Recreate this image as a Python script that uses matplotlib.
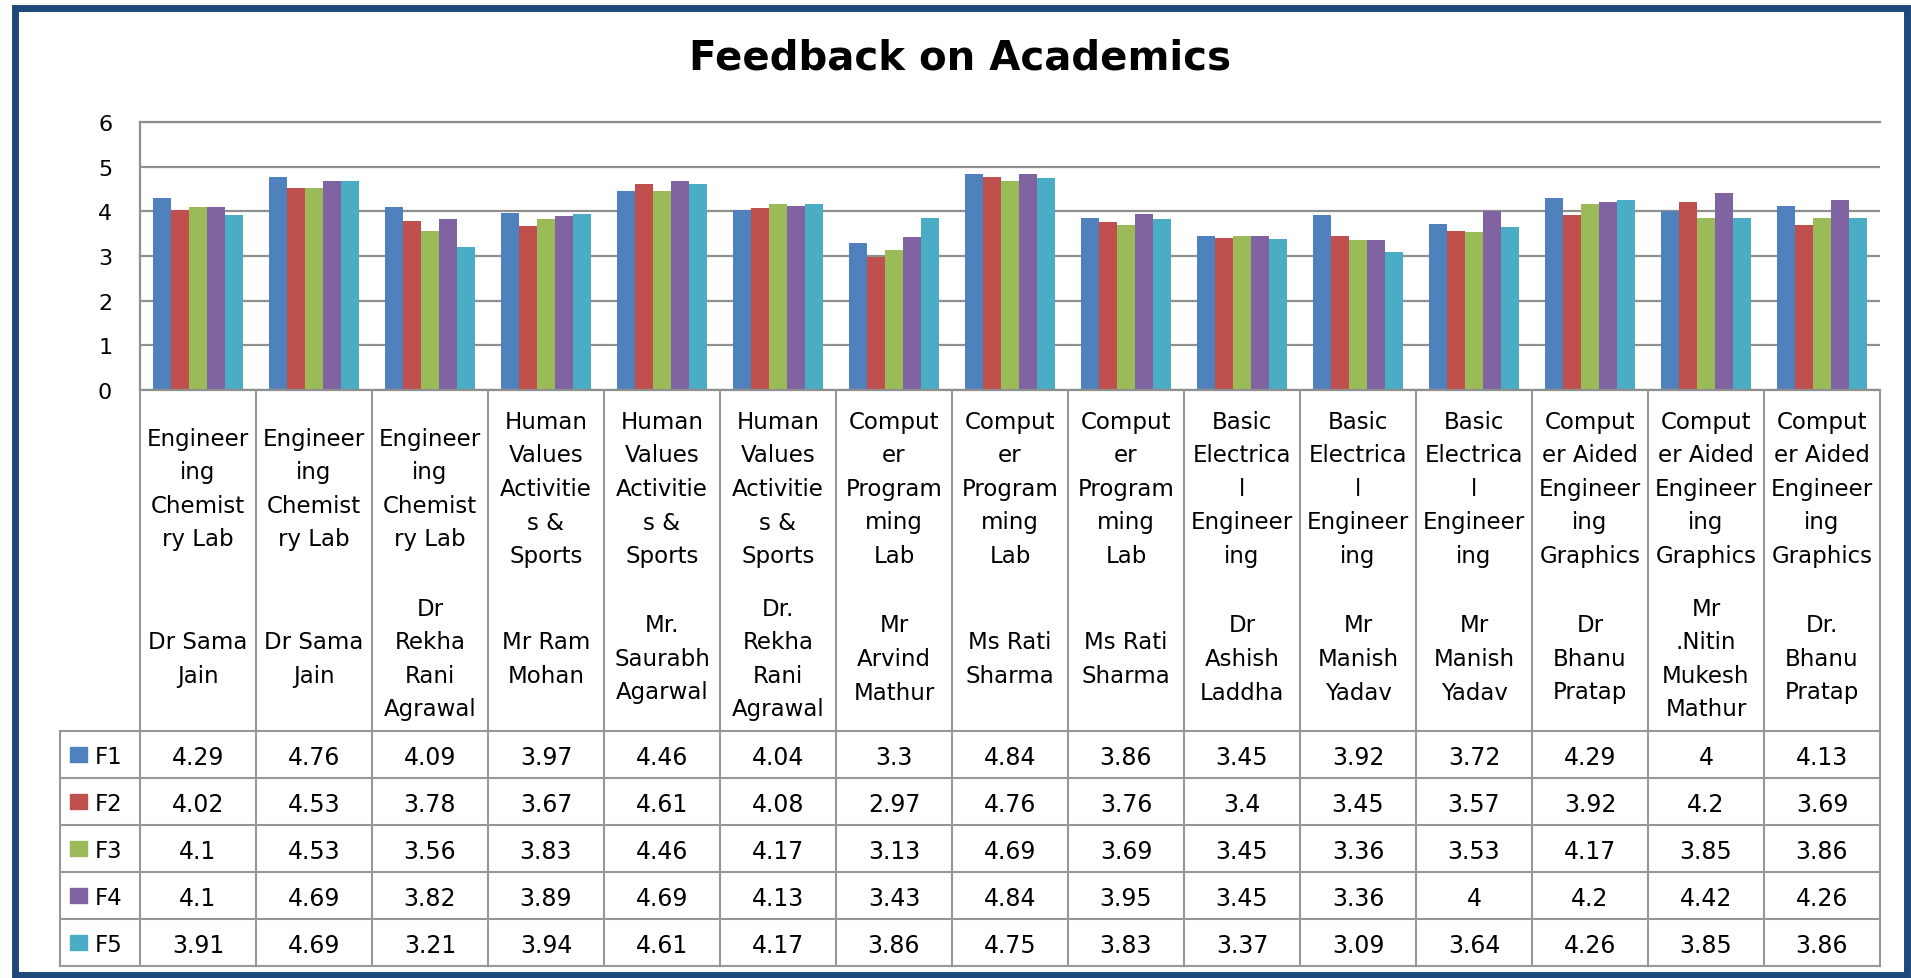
import numpy as np
import matplotlib.pyplot as plt
from matplotlib.patches import Rectangle

subjects = [
    "Engineer\ning\nChemist\nry Lab", "Engineer\ning\nChemist\nry Lab", "Engineer\ning\nChemist\nry Lab",
    "Human\nValues\nActivitie\ns &\nSports", "Human\nValues\nActivitie\ns &\nSports", "Human\nValues\nActivitie\ns &\nSports",
    "Comput\ner\nProgram\nming\nLab", "Comput\ner\nProgram\nming\nLab", "Comput\ner\nProgram\nming\nLab",
    "Basic\nElectrica\nl\nEngineer\ning", "Basic\nElectrica\nl\nEngineer\ning", "Basic\nElectrica\nl\nEngineer\ning",
    "Comput\ner Aided\nEngineer\ning\nGraphics", "Comput\ner Aided\nEngineer\ning\nGraphics", "Comput\ner Aided\nEngineer\ning\nGraphics",
]
teachers = [
    "Dr Sama\nJain", "Dr Sama\nJain", "Dr\nRekha\nRani\nAgrawal",
    "Mr Ram\nMohan", "Mr.\nSaurabh\nAgarwal", "Dr.\nRekha\nRani\nAgrawal",
    "Mr\nArvind\nMathur", "Ms Rati\nSharma", "Ms Rati\nSharma",
    "Dr\nAshish\nLaddha", "Mr\nManish\nYadav", "Mr\nManish\nYadav",
    "Dr\nBhanu\nPratap", "Mr\n.Nitin\nMukesh\nMathur", "Dr.\nBhanu\nPratap",
]
series_names = ["F1", "F2", "F3", "F4", "F5"]
F1 = [4.29, 4.76, 4.09, 3.97, 4.46, 4.04, 3.3, 4.84, 3.86, 3.45, 3.92, 3.72, 4.29, 4, 4.13]
F2 = [4.02, 4.53, 3.78, 3.67, 4.61, 4.08, 2.97, 4.76, 3.76, 3.4, 3.45, 3.57, 3.92, 4.2, 3.69]
F3 = [4.1, 4.53, 3.56, 3.83, 4.46, 4.17, 3.13, 4.69, 3.69, 3.45, 3.36, 3.53, 4.17, 3.85, 3.86]
F4 = [4.1, 4.69, 3.82, 3.89, 4.69, 4.13, 3.43, 4.84, 3.95, 3.45, 3.36, 4, 4.2, 4.42, 4.26]
F5 = [3.91, 4.69, 3.21, 3.94, 4.61, 4.17, 3.86, 4.75, 3.83, 3.37, 3.09, 3.64, 4.26, 3.85, 3.86]
series = [F1, F2, F3, F4, F5]
colors = ["#4F81BD", "#C0504D", "#9BBB59", "#8064A2", "#4BACC6"]

W, H = 1911, 979
fig = plt.figure(figsize=(W / 100, H / 100), dpi=100)
fig.patch.set_facecolor("white")

# layout in pixels (from top-left)
pl, pr, pt, pb = 140, 1880, 123, 391     # plot area
tl, tb = 60, 967                         # table left / bottom
hdr_b = 732                              # bottom of label row
row_h = 47
n = len(F1)
grid_c = "#8f8f8f"
line_c = "#979797"

ax = fig.add_axes([pl / W, 1 - pb / H, (pr - pl) / W, (pb - pt) / H])
x = np.arange(n)
bw = 1 / 6.5
for k, (vals, c, name) in enumerate(zip(series, colors, series_names)):
    ax.bar(x + (k - 2) * bw, vals, bw, color=c, label=name, zorder=2)
ax.set_xlim(-0.5, n - 0.5)
ax.set_ylim(0, 6)
ax.set_yticks(range(7))
ax.set_xticks([])
ax.tick_params(axis="y", length=0, pad=20, labelsize=16)
ax.yaxis.grid(True, color=grid_c, lw=1.6)
ax.set_axisbelow(True)
for s in ["left", "top", "bottom"]:
    ax.spines[s].set_color(grid_c)
    ax.spines[s].set_linewidth(1.6)
ax.spines["right"].set_visible(False)

# data table under the plot
tax = fig.add_axes([tl / W, 1 - tb / H, (pr - tl) / W, (tb - pb) / H])
x_left = -0.5 - (pl - tl) / 116
tax.set_xlim(x_left, n - 0.5)
tax.set_ylim(tb, pb)
tax.axis("off")
for i in range(n + 1):
    tax.plot([i - 0.5, i - 0.5], [pb, tb], color=line_c, lw=1.5, clip_on=False)
tax.plot([x_left, x_left], [hdr_b, tb], color=line_c, lw=1.5, clip_on=False)
for r in range(len(series) + 1):
    yy = hdr_b + r * row_h
    tax.plot([x_left, n - 0.5], [yy, yy], color=line_c, lw=1.5, clip_on=False)

lh = 33.5
for i in range(n):
    for txt, yc in [(subjects[i], 487), (teachers[i], 657)]:
        lines = txt.split("\n")
        for j, ln in enumerate(lines):
            tax.text(i, yc + (j - (len(lines) - 1) / 2) * lh, ln, ha="center",
                     va="center_baseline", fontsize=16.5)

for r, (vals, c, name) in enumerate(zip(series, colors, series_names)):
    yc = hdr_b + (r + 0.5) * row_h
    tax.add_patch(Rectangle((x_left + 10.5 / 116, yc - 7.5), 17 / 116, 15,
                            color=c, clip_on=False))
    tax.text(x_left + 35 / 116, yc, name, ha="left", va="center_baseline", fontsize=16.5)
    for i, v in enumerate(vals):
        tax.text(i, yc, f"{v:g}", ha="center", va="center_baseline", fontsize=17)

fig.text(960 / W, 1 - 58 / H, "Feedback on Academics", ha="center", va="center",
         fontsize=29, fontweight="bold")

# outer frame
fig.patches.append(Rectangle((14.5 / W, 1 - 976 / H), (1907 - 14.5) / W, (976 - 8.5) / H,
                             transform=fig.transFigure, fill=False,
                             edgecolor="#1F497D", lw=5))

fig.savefig("out.png", dpi=100)
